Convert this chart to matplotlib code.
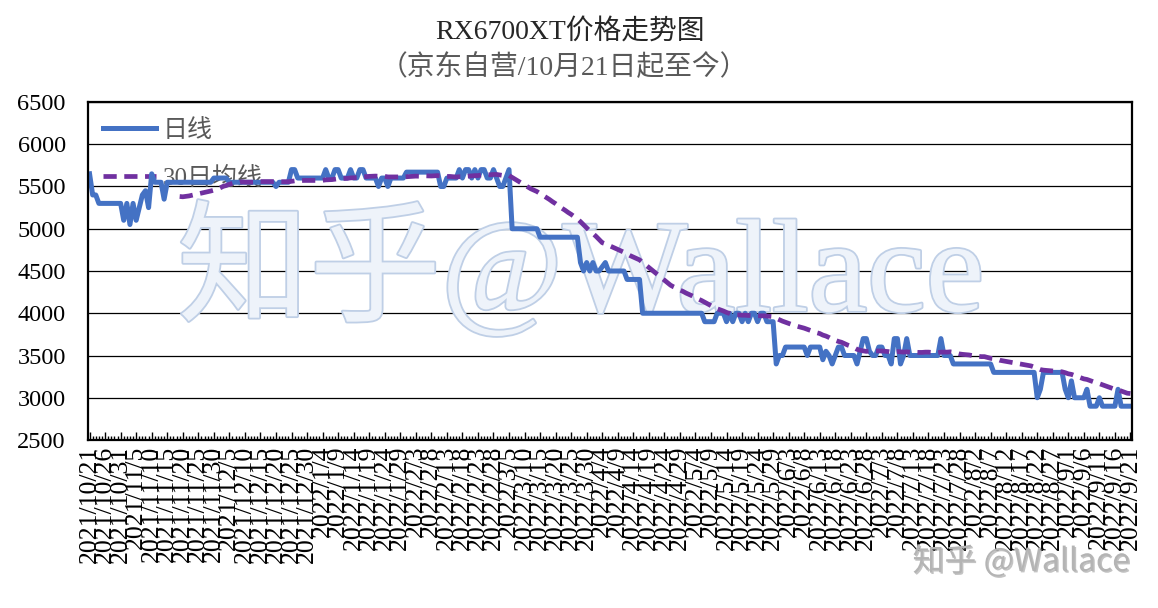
import numpy as np
import pandas as pd
import matplotlib
matplotlib.use("Agg")
import matplotlib.pyplot as plt
import matplotlib.patheffects as pe

# ---------------- data ----------------
start_date = "2021-10-21"
label_every = 5
ma_window = 30

daily_price = (
    [5650] + [5400] * 2 + [5300] * 8
    + [5100, 5300, 5050, 5300, 5100, 5250, 5400, 5450, 5250, 5650]
    + [5550] * 3 + [5350] + [5550] * 15
    + [5600] * 5 + [5550] * 15 + [5500] + [5550] * 4
    + [5700] * 2 + [5600] * 9 + [5700] + [5600] * 2 + [5700] * 2 + [5600] * 3
    + [5700] + [5600] * 2 + [5700] * 2 + [5600] * 4 + [5500] + [5600] * 2
    + [5500] + [5600] * 5 + [5670] * 11 + [5500] * 2 + [5600] * 4
    + [5700, 5600, 5700, 5700, 5600, 5700, 5600, 5700, 5700, 5600, 5600, 5700, 5600]
    + [5500] * 2 + [5600, 5700]
    + [5000] * 9 + [4900] * 13
    + [4600, 4500, 4600, 4500, 4600, 4500, 4500, 4550, 4600] + [4500] * 6
    + [4400] * 5 + [4000] * 20 + [3900] * 4 + [4000] * 3
    + [3900, 4000, 3900, 4000, 4000, 3900, 4000, 3900, 4000, 4000, 3900, 4000, 4000]
    + [3900] * 3 + [3400] + [3500] * 2 + [3600] * 7 + [3500] + [3600] * 4
    + [3450, 3550, 3500, 3400, 3500] + [3600] * 2 + [3500] * 4
    + [3400, 3550, 3700, 3700, 3550, 3500, 3500, 3600, 3600, 3500, 3500, 3400,
       3700, 3700, 3400, 3500, 3700]
    + [3500] * 10 + [3700] + [3500] * 3 + [3400] * 13 + [3300] * 14
    + [3000, 3100] + [3300] * 7 + [3100, 3000, 3200] + [3000] * 4 + [3100]
    + [2900] * 3 + [3000] + [2900] * 5 + [3100] + [2900] * 4
)
assert len(daily_price) == 336, len(daily_price)

y_ticks = [2500, 3000, 3500, 4000, 4500, 5000, 5500, 6000, 6500]
title_text = "RX6700XT价格走势图"
subtitle_text = "（京东自营/10月21日起至今）"
legend_labels = ["日线", "30日均线"]
watermark_big = "知乎@Wallace"
watermark_small = "知乎 @Wallace"

dates = pd.date_range(start_date, periods=len(daily_price), freq="D")
tick_labels = [f"{d.year}/{d.month}/{d.day}" for d in dates[::label_every]]
ma_price = pd.Series(daily_price).rolling(ma_window).mean()

# ---------------- style ----------------
plt.rcParams["font.family"] = ["Liberation Serif", "Noto Sans CJK SC", "DejaVu Sans"]

W, H = 1158, 608
fig = plt.figure(figsize=(W / 100, H / 100), dpi=100)
ax = fig.add_axes([88 / W, 1 - 440 / H, (1132 - 88) / W, (440 - 102) / H])

x = np.arange(len(daily_price))
ax.plot(x, daily_price, color="#4472C4", lw=3.6, zorder=4,
        solid_joinstyle="round", label=legend_labels[0])
ax.plot(x, ma_price, color="#7030A0", lw=3.4, zorder=5,
        linestyle=(0, (2.8, 1.6)), dash_capstyle="butt", label=legend_labels[1])

ax.set_xlim(-0.5, len(daily_price) - 0.5)
ax.set_ylim(2500, 6500)
ax.set_yticks(y_ticks)
ax.set_yticklabels([str(v) for v in y_ticks])
ax.grid(axis="y", color="black", lw=0.9, zorder=2)
ax.set_axisbelow(True)

ax.set_xticks(x[::label_every])
ax.set_xticklabels(tick_labels, rotation=90, fontsize=18.5)
ax.set_xticks(x, minor=True)
ax.tick_params(axis="x", which="major", direction="in", length=6, width=1, pad=4)
ax.tick_params(axis="x", which="minor", direction="in", length=3, width=1)
ax.tick_params(axis="y", length=0, pad=16, labelsize=17.5)

for s in ax.spines.values():
    s.set_linewidth(1.6)
    s.set_color("black")
    s.set_zorder(6)

leg = ax.legend(loc="upper left", bbox_to_anchor=(15 / 1044, 1 - 17 / 338),
                frameon=False, fontsize=18, borderpad=0, borderaxespad=0,
                handlelength=2.1, handletextpad=0.3, labelspacing=1.0)
leg.set_zorder(3)
for t in leg.get_texts():
    t.set_color("#595959")

# big watermark in the plot
ax.text(0.472, 0.5, watermark_big, transform=ax.transAxes, fontsize=95,
        ha="center", va="center", color="#eef3fa", zorder=1,
        path_effects=[pe.withStroke(linewidth=2.6, foreground="#bfcfe6")])

# titles
fig.text(570 / W, 1 - 32 / H, title_text, ha="center", va="center",
         fontsize=20, color="#262626")
fig.text(564 / W, 1 - 68 / H, subtitle_text, ha="center", va="center",
         fontsize=20, color="#595959")

# small watermark bottom-right
fig.text(1130 / W, 1 - 562 / H, watermark_small, ha="right", va="center",
         fontsize=23, color="#b4b4b4", family=["Noto Sans CJK SC", "DejaVu Sans"],
         path_effects=[pe.withSimplePatchShadow(offset=(1, -1), shadow_rgbFace="#888888", alpha=0.5)])

fig.savefig("out.png", dpi=100, facecolor="white")
